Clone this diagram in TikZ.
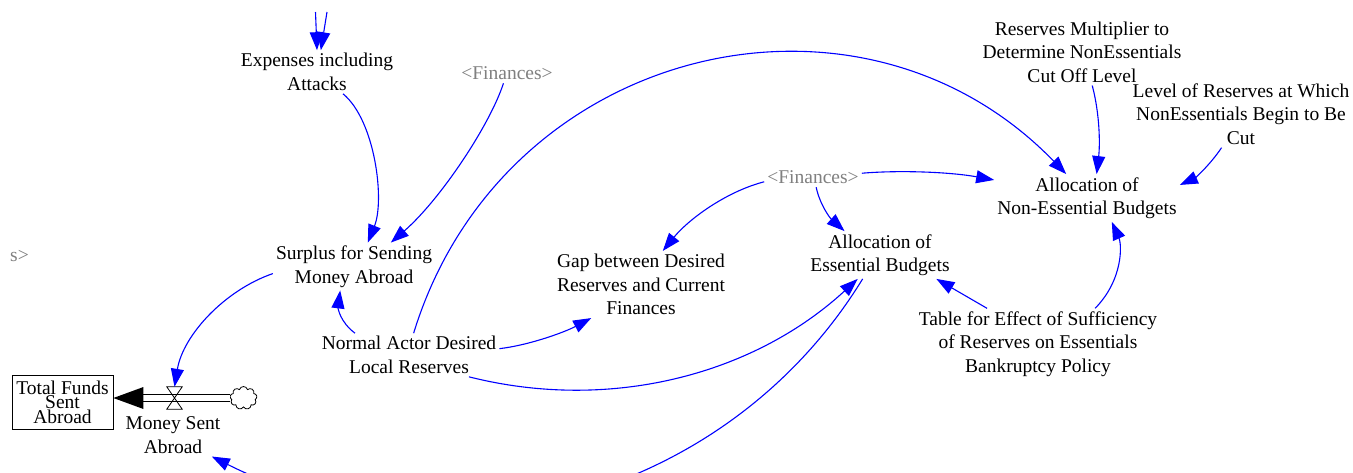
\documentclass[tikz,border=0pt]{standalone}
\usepackage{fontspec}
\setmainfont{Liberation Serif}
\usetikzlibrary{arrows.meta,shapes.symbols}
\definecolor{LinkBlue}{RGB}{0,0,255}
\definecolor{ShadowGrey}{RGB}{128,128,128}
\tikzset{var/.style={align=center,inner sep=3pt,font=\fontsize{19.5}{23.5}\selectfont},shadowvar/.style={var,text=ShadowGrey},link/.style={draw=LinkBlue,line width=1.1pt,-{Triangle[length=18pt,width=13pt]}},stockbox/.style={draw,line width=0.8pt,minimum width=101pt,minimum height=54pt,inner sep=0pt,align=center,font=\fontsize{19.5}{14.5}\selectfont},pipe/.style={draw,line width=0.8pt,double,double distance=6pt},valvebox/.style={inner sep=0pt,minimum width=15pt,minimum height=22pt},sourcecloud/.style={cloud,draw,cloud puffs=9,aspect=1.2,minimum width=27pt,minimum height=23pt,inner sep=0pt,line width=0.8pt}}

\begin{document}
\begin{tikzpicture}[x=1pt,y=-1pt]
\useasboundingbox (0,0) rectangle (1353,472);
\clip (0,0) rectangle (1353,472);
\fill[white] (0,0) rectangle (1353,472);
\node[var] (exp) at (317,72) {Expenses including\\Attacks};
\node[shadowvar] (fin1) at (507,73.5) {<Finances>};
\node[var] (surplus) at (354,266.5) {Surplus for Sending\\Money Abroad};
\node[var] (normal) at (409,355) {Normal Actor Desired\\Local Reserves};
\node[var] (gap) at (641,284.5) {Gap between Desired\\Reserves and Current\\Finances};
\node[shadowvar] (fin2) at (813,177.5) {<Finances>};
\node[var] (ess) at (880,255) {Allocation of\\Essential Budgets};
\node[var] (noness) at (1087,198) {Allocation of\\Non-Essential Budgets};
\node[var] (mult) at (1082,52) {Reserves Multiplier to\\Determine NonEssentials\\Cut Off Level};
\node[var] (level) at (1241,114) {Level of Reserves at Which\\NonEssentials Begin to Be\\Cut};
\node[var] (table) at (1038,344) {Table for Effect of Sufficiency\\of Reserves on Essentials\\Bankruptcy Policy};
\node[shadowvar] (cut) at (19.5,256.5) {s>};
\node[stockbox] (total) at (62.5,402) {Total Funds\\Sent\\Abroad};
\node[sourcecloud] (src) at (243.5,398) {};
\node[valvebox] (valve) at (174.5,398) {};
\node[var] (money) at (173,435) {Money Sent\\Abroad};
\coordinate (tip) at (total.east |- src.west);
\coordinate (pipeend) at ([xshift=30pt]tip);
\draw[pipe] (src.west) -- (pipeend);
\fill (tip) -- ++(30,-11) -- ++(0,22) -- cycle;
\draw[line width=0.8pt] (valve.north west) -- (valve.north east) -- (valve.south west) -- (valve.south east) -- cycle;
\coordinate (inA) at (315.5,12); \coordinate (inB) at (327,12);
\draw[link] (inA) -- (exp.north);
\draw[link] (inB) -- (exp.80);
\draw[link] (exp.-40) .. controls (375,120) and (385,200) .. (surplus.60);
\draw[link] (fin1.-110) .. controls (490,125) and (440,200) .. (surplus.33);
\draw[link] (normal.158) .. controls (340,322) and (338,308) .. (surplus.-120);
\draw[link] (normal.78) .. controls (502,45) and (859,-40) .. (noness.131);
\draw[link] (normal.4) .. controls (530,345) and (565,332) .. (gap.-146);
\draw[link] (normal.-20) .. controls (608,412) and (752,376) .. (ess.-133);
\draw[link] (ess.-126) .. controls (729,497) and (448,575) .. (money.-29);
\draw[link] (fin2.-175) .. controls (725,192) and (688,220) .. (gap.57);
\draw[link] (fin2.-72) .. controls (820,205) and (830,218) .. (ess.146);
\draw[link] (fin2.5) .. controls (900,170) and (950,172) .. (noness.169);
\draw[link] (table.145) -- (ess.-23);
\draw[link] (table.32) .. controls (1123,280) and (1122,245) .. (noness.-44);
\draw[link] (mult.-73) .. controls (1100,115) and (1100,145) .. (noness.68);
\draw[link] (level.-120) .. controls (1210,165) and (1195,178) .. (noness.8);
\draw[link] (surplus.-175) .. controls (225,290) and (183,335) .. (valve.north);
\end{tikzpicture}
\end{document}
